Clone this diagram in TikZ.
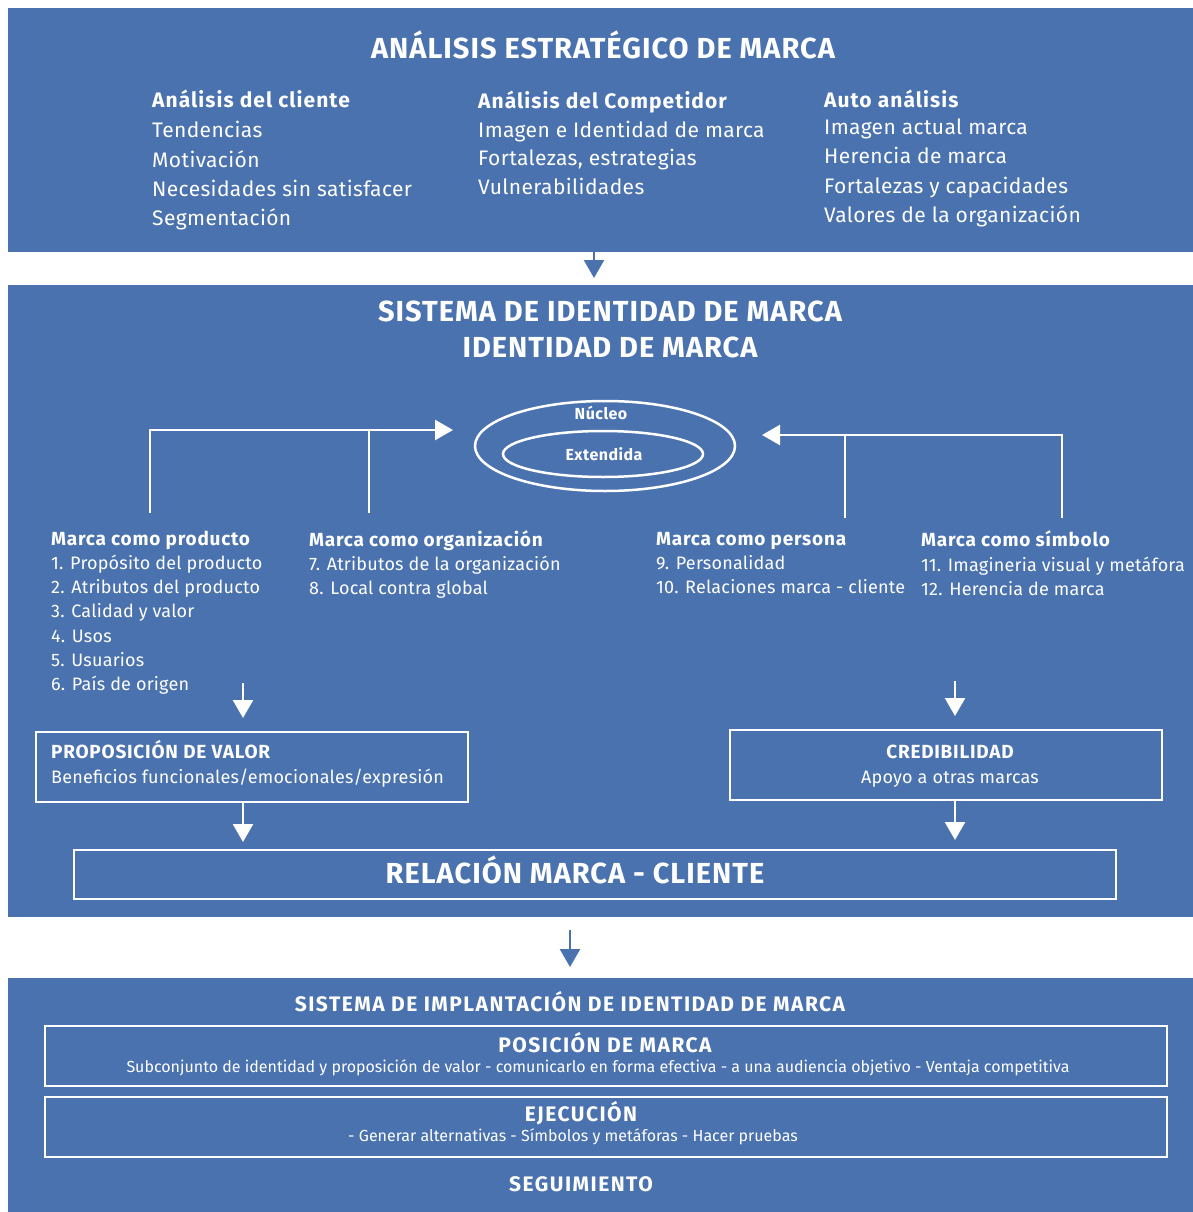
\documentclass[tikz,border=0pt]{standalone}
\usepackage{fontspec}
\setmainfont{Fira Sans}
\usetikzlibrary{arrows.meta,shapes.geometric,positioning}
\definecolor{azulmarca}{RGB}{74,114,175}
\newcommand{\fTitulo}{\fontsize{29}{32}\selectfont\bfseries\addfontfeatures{LetterSpace=3.5}}
\newcommand{\fCuerpo}{\fontsize{21}{29}\selectfont\addfontfeatures{LetterSpace=1.8}}
\newcommand{\fCuerpoB}{\fontsize{21}{29}\selectfont\bfseries\addfontfeatures{LetterSpace=5}}
\newcommand{\fCol}{\fontsize{18}{24}\selectfont\addfontfeatures{LetterSpace=1.2}}
\newcommand{\fColB}{\fontsize{19}{24}\selectfont\bfseries\addfontfeatures{LetterSpace=4}}
\newcommand{\fSub}{\fontsize{21}{24}\selectfont\bfseries\addfontfeatures{LetterSpace=7}}
\newcommand{\fPeq}{\fontsize{16}{18}\selectfont}
\newcommand{\fNucleo}{\fontsize{16}{18}\selectfont\bfseries\addfontfeatures{LetterSpace=3}}
\tikzset{
  panel/.style={fill=azulmarca, anchor=north west, inner sep=0pt},
  caja/.style={draw=white, line width=2pt, anchor=north west, inner sep=0pt},
  flecha/.style={-{Triangle[width=20pt,length=18pt]}, line width=2.5pt},
  linea/.style={white, line width=2.5pt},
  texto/.style={text=white, inner sep=0pt, anchor=base},
  textoizq/.style={text=white, inner sep=0pt, anchor=base west},
}
\begin{document}
\begin{tikzpicture}[x=1pt, y=-1pt]
\fill[white] (0,0) rectangle (1193,1212);
\useasboundingbox (0,0) rectangle (1193,1212);

% paneles
\node[panel, minimum width=1185pt, minimum height=244pt] (analisis) at (8,8) {};
\node[panel, minimum width=1185pt, minimum height=632pt] (sistema) at (8,285) {};
\node[panel, minimum width=1185pt, minimum height=234pt] (implantacion) at (8,978) {};

\coordinate (paso1) at (594,0);
\coordinate (paso2) at (570,930);
\draw[flecha, azulmarca, shorten >=7pt] (analisis.south -| paso1) -- (sistema.north -| paso1);
\draw[flecha, azulmarca, shorten >=11pt] (paso2) -- (implantacion.north -| paso2);

% analisis estrategico
\node[texto, font=\fTitulo] (titulo1) at (603,59) {ANÁLISIS ESTRATÉGICO DE MARCA};
\node[textoizq, font=\fCuerpoB] (cliente) at (152,108) {Análisis del cliente};
\foreach \t [count=\i] in {Tendencias, Motivación, Necesidades sin satisfacer, Segmentación}
  \node[textoizq, font=\fCuerpo] (cliente\i) at (152,109+29*\i) {\t};
\node[textoizq, font=\fCuerpoB] (competidor) at (478,109) {Análisis del Competidor};
\foreach \t [count=\i] in {Imagen e Identidad de marca, {Fortalezas, estrategias}, Vulnerabilidades}
  \node[textoizq, font=\fCuerpo] (competidor\i) at (478,108.5+28.5*\i) {\t};
\node[textoizq, font=\fCuerpoB] (auto) at (824,108) {Auto análisis};
\foreach \t [count=\i] in {Imagen actual marca, Herencia de marca, Fortalezas y capacidades, Valores de la organización}
  \node[textoizq, font=\fCuerpo] (auto\i) at (824,106+29*\i) {\t};

% sistema de identidad
\node[texto, font=\fTitulo] (titulo2) at (610,321) {SISTEMA DE IDENTIDAD DE MARCA};
\node[texto, font=\fTitulo] (titulo3) at (610,357) {IDENTIDAD DE MARCA};

\node[draw=white, line width=2.5pt, ellipse, minimum width=260pt, minimum height=90pt, inner sep=0pt] (nucleo) at (605,446) {};
\node[draw=white, line width=2.5pt, ellipse, minimum width=200pt, minimum height=46pt, inner sep=0pt] (extendida) at (603,454) {};
\node[texto, font=\fNucleo] (nucleotxt) at (601,419) {Núcleo};
\node[texto, font=\fNucleo] (extendidatxt) at (604,460) {Extendida};

\node[textoizq, font=\fColB] (prod) at (51,545.5) {Marca como producto};
\foreach \t [count=\i] in {1. Propósito del producto, 2. Atributos del producto, 3. Calidad y valor, 4. Usos, 5. Usuarios, 6. País de origen}
  \node[textoizq, font=\fCol] (prod\i) at (51,545.3+24.2*\i) {\t};
\node[textoizq, font=\fColB] (org) at (309,546.5) {Marca como organización};
\foreach \t [count=\i] in {7. Atributos de la organización, 8. Local contra global}
  \node[textoizq, font=\fCol] (org\i) at (309,546.5+24*\i) {\t};
\node[textoizq, font=\fColB] (persona) at (656,545.5) {Marca como persona};
\foreach \t [count=\i] in {9. Personalidad, 10. Relaciones marca - cliente}
  \node[textoizq, font=\fCol] (persona\i) at (656,545.5+24*\i) {\t};
\node[textoizq, font=\fColB] (simbolo) at (921,546.5) {Marca como símbolo};
\foreach \t [count=\i] in {11. Imagineria visual y metáfora, 12. Herencia de marca}
  \node[textoizq, font=\fCol] (simbolo\i) at (921,547.5+24*\i) {\t};

\coordinate (prodtop) at (150,513);
\coordinate (orgtop) at (369,513);
\coordinate (personatop) at (845,518);
\coordinate (simbolotop) at (1062,518);
\coordinate (entradaizq) at (453,430);
\coordinate (entradader) at (762,435);
\draw[linea, flecha] (prodtop) |- (entradaizq);
\draw[linea] (orgtop) -- (orgtop |- entradaizq);
\draw[linea, flecha] (simbolotop) |- (entradader);
\draw[linea] (personatop) -- (personatop |- entradader);

\node[caja, minimum width=432pt, minimum height=70pt] (propuesta) at (35,731) {};
\node[textoizq, font=\fColB] (propuestatit) at (51,758.5) {PROPOSICIÓN DE VALOR};
\node[textoizq, font=\fCol] (propuestasub) at (51,783) {Beneficios funcionales/emocionales/expresión};
\node[caja, minimum width=432pt, minimum height=70pt] (credibilidad) at (729,729) {};
\node[texto, font=\fColB] (credibilidadtit) at (950,758.5) {CREDIBILIDAD};
\node[texto, font=\fCol] (credibilidadsub) at (950,783) {Apoyo a otras marcas};
\node[caja, minimum width=1042pt, minimum height=49pt] (relacion) at (73,849) {};
\node[texto, font=\fTitulo] (relaciontxt) at (575,883) {RELACIÓN MARCA - CLIENTE};

\coordinate (bajaizq) at (243,683);
\coordinate (bajader) at (955,681);
\draw[linea, flecha, shorten >=13pt] (bajaizq) -- (propuesta.north -| bajaizq);
\draw[linea, flecha, shorten >=13pt] (bajader) -- (credibilidad.north -| bajader);
\draw[linea, flecha, shorten >=7pt] (propuesta.south -| bajaizq) -- (relacion.north -| bajaizq);
\draw[linea, flecha, shorten >=9pt] (credibilidad.south -| bajader) -- (relacion.north -| bajader);

% implantacion
\node[texto, font=\fSub] (titulo4) at (570,1011) {SISTEMA DE IMPLANTACIÓN DE IDENTIDAD DE MARCA};
\node[caja, minimum width=1122pt, minimum height=60pt] (posicion) at (44,1025) {};
\node[texto, font=\fSub] (posiciontit) at (605,1052.5) {POSICIÓN DE MARCA};
\node[texto, font=\fPeq] (posicionsub) at (598,1072.5) {Subconjunto de identidad y proposición de valor - comunicarlo en forma efectiva - a una audiencia objetivo - Ventaja competitiva};
\node[caja, minimum width=1122pt, minimum height=60pt] (ejecucion) at (44,1096) {};
\node[texto, font=\fSub] (ejecuciontit) at (581,1121.5) {EJECUCIÓN};
\node[texto, font=\fPeq] (ejecucionsub) at (573,1141.5) {- Generar alternativas - Símbolos y metáforas - Hacer pruebas};
\node[texto, font=\fSub] (seguimiento) at (581,1191.5) {SEGUIMIENTO};
\end{tikzpicture}
\end{document}
